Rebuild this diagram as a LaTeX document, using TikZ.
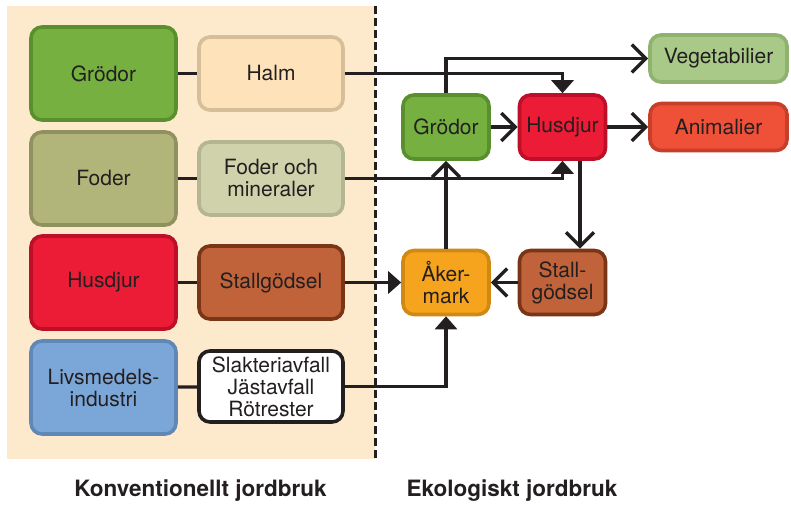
\documentclass[tikz,border=0pt]{standalone}
\usepackage{fontspec}
\setmainfont{TeX Gyre Heros}
\usetikzlibrary{arrows.meta}

\definecolor{ink}{HTML}{231F20}
\definecolor{panel}{HTML}{FDE9CC}
\definecolor{cropF}{HTML}{76B041}\definecolor{cropD}{HTML}{5A8F2E}
\definecolor{fodF}{HTML}{B2B579}\definecolor{fodD}{HTML}{8F925E}
\definecolor{animF}{HTML}{EC1B36}\definecolor{animD}{HTML}{BE0F29}
\definecolor{indF}{HTML}{7BA7D8}\definecolor{indD}{HTML}{5F88B6}
\definecolor{halmF}{HTML}{FEE3BA}\definecolor{halmD}{HTML}{D6BE98}
\definecolor{minF}{HTML}{D0D2AC}\definecolor{minD}{HTML}{B3B690}
\definecolor{dungF}{HTML}{C0623A}\definecolor{dungD}{HTML}{7A3516}
\definecolor{vegF}{HTML}{A8C987}\definecolor{vegD}{HTML}{8FB26F}
\definecolor{meatF}{HTML}{EF5138}\definecolor{meatD}{HTML}{C63F2A}
\definecolor{fieldF}{HTML}{F6A41E}\definecolor{fieldD}{HTML}{D08A14}

\tikzset{
  box/.style={draw, line width=3.6pt, rounded corners=11pt, inner sep=0pt,
    align=center, text=ink, font=\fontsize{21}{22}\selectfont},
  bigbox/.style={box, minimum width=145pt, minimum height=93pt},
  sidebox/.style={box, minimum width=144pt, minimum height=73pt},
  ecobox/.style={box, minimum width=86pt, minimum height=64pt},
  outbox/.style={box, minimum width=137pt, minimum height=47pt},
  link/.style={draw=ink, line width=3.2pt},
  feed/.style={link, -{Triangle[length=13pt,width=22pt]}},
  flow/.style={link, -{Straight Barb[length=14pt,width=28pt,line width=3.4pt]}},
  caption/.style={text=ink, font=\fontsize{22.5}{24}\selectfont\bfseries}
}

\begin{document}
\begin{tikzpicture}[x=1pt,y=-1pt]
  \useasboundingbox (0,0) rectangle (791,505);

  % conventional side background
  \fill[panel] (7,6) rectangle (375,459);

  % conventional farming sources
  \node[bigbox, fill=cropF, draw=cropD] (cropL) at (103.5,73.5) {Grödor};
  \node[bigbox, fill=fodF, draw=fodD] (fodL) at (103.5,178.5) {Foder};
  \node[bigbox, fill=animF, draw=animD] (animL) at (103.5,282.5) {Husdjur};
  \node[bigbox, fill=indF, draw=indD] (ind) at (103.5,387.5) {Livsmedels-\\industri};

  \node[sidebox, fill=halmF, draw=halmD] (halm) at (271,73.5) {Halm};
  \node[sidebox, fill=minF, draw=minD] (mins) at (271,178.5) {Foder och\\mineraler};
  \node[sidebox, fill=dungF, draw=dungD] (dungL) at (271,282.5) {Stallgödsel};
  \node[sidebox, fill=white, draw=ink, minimum height=71pt] (waste) at (271,386.5) {Slakteriavfall\\Jästavfall\\Rötrester};

  % organic farming cycle
  \node[ecobox, fill=cropF, draw=cropD] (cropR) at (446,127) {Grödor};
  \node[ecobox, fill=animF, draw=animD] (animR) at (562.5,127) {Husdjur};
  \node[ecobox, fill=fieldF, draw=fieldD] (field) at (446,282.5) {Åker-\\mark};
  \node[ecobox, fill=dungF, draw=dungD] (dungR) at (562.5,282.5) {Stall-\\gödsel};
  \node[outbox, fill=vegF, draw=vegD] (veg) at (718.5,58.5) {Vegetabilier};
  \node[outbox, fill=meatF, draw=meatD] (meat) at (718.5,127) {Animalier};

  % source to product links
  \draw[link] (cropL) -- (halm);
  \draw[link] (fodL) -- (mins);
  \draw[link] (animL) -- (dungL);
  \draw[link] (ind) -- (waste);

  % inputs brought in from conventional farming
  \draw[feed] (halm.east) -| (animR.north);
  \draw[feed] (mins.east) -| (animR.south);
  \draw[feed] (dungL) -- (field);
  \draw[feed] (waste.east) -| (field.south);

  % organic flows
  \draw[flow] (cropR.north) |- (veg.west);
  \draw[flow] (cropR) -- (animR);
  \draw[flow] (animR) -- (meat);
  \draw[flow] ([xshift=17.5pt]animR.south) -- ([xshift=17.5pt]dungR.north);
  \draw[flow] (dungR) -- (field);
  \draw[flow] (field) -- (cropR);

  % divider between the two farming systems
  \draw[draw=ink, line width=3pt, dash pattern=on 8pt off 4pt] (375,6) -- (375,460);

  % section captions
  \node[caption] (convlabel) at (200.5,491) {Konventionellt jordbruk};
  \node[caption] (ecolabel) at (512,491) {Ekologiskt jordbruk};
\end{tikzpicture}
\end{document}
